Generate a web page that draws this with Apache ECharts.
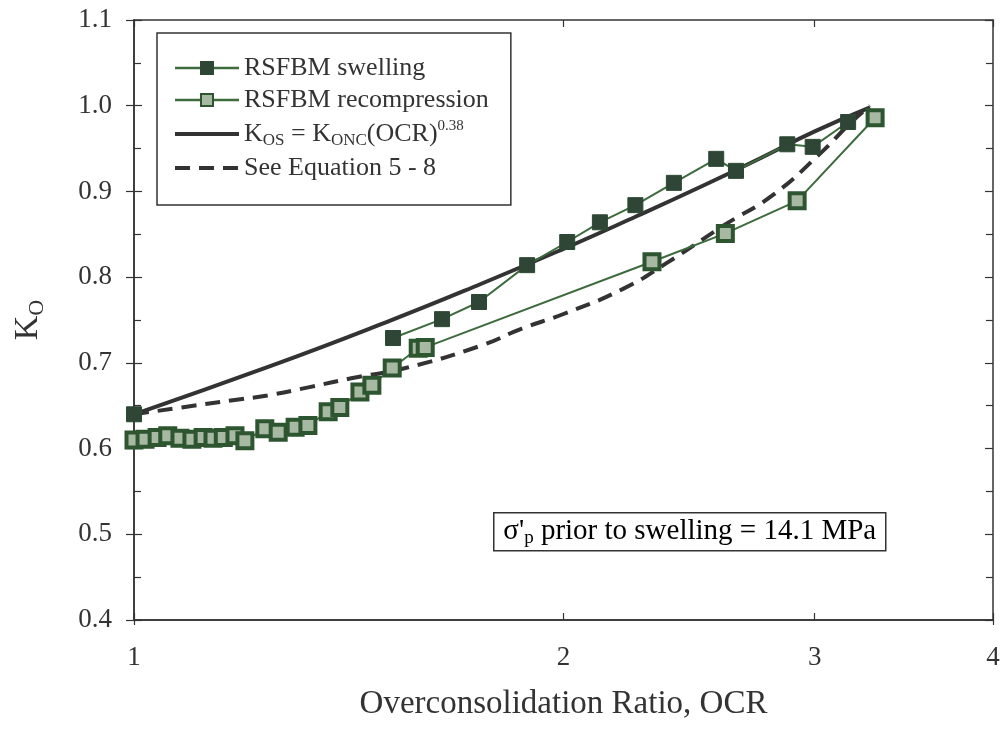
<!DOCTYPE html>
<html>
<head>
<meta charset="utf-8">
<script src="https://cdn.jsdelivr.net/npm/echarts@6/dist/echarts.min.js"></script>
<style>
  html, body { margin: 0; padding: 0; background: #fff; }
  #chart { width: 1008px; height: 736px; }
</style>
</head>
<body>
<div id="chart"></div>
<script>
// OCR values and K0 for the swelling stage (from highest OCR down)
const swellingOCR = [3.166, 2.99, 2.87, 2.642, 2.559, 2.39, 2.246, 2.121, 2.012, 1.886, 1.745, 1.644, 1.519];
const swellingK0  = [0.981, 0.952, 0.955, 0.924, 0.938, 0.910, 0.884, 0.864, 0.841, 0.814, 0.771, 0.751, 0.729];
// Normally consolidated starting point
const startOCR = [1.0];
const startK0  = [0.640];

// Recompression stage
const recompOCR = [1.0, 1.018, 1.038, 1.056, 1.077, 1.098, 1.118, 1.136, 1.155, 1.177, 1.196,
                   1.235, 1.262, 1.297, 1.324, 1.368, 1.394, 1.44, 1.468, 1.517, 1.582, 1.60,
                   2.307, 2.597, 2.916, 3.307];
const recompK0  = [0.610, 0.611, 0.613, 0.615, 0.612, 0.611, 0.613, 0.612, 0.613, 0.615, 0.609,
                   0.623, 0.619, 0.625, 0.627, 0.643, 0.648, 0.666, 0.674, 0.694, 0.717, 0.718,
                   0.818, 0.851, 0.889, 0.986];

// K_OS = K_ONC (OCR)^0.38 curve
const powerOCR = [1.0, 1.25, 1.5, 1.75, 2.0, 2.25, 2.5, 2.75, 3.0, 3.28];
const powerK0  = [0.640, 0.697, 0.747, 0.792, 0.833, 0.871, 0.906, 0.939, 0.970, 0.998];

// Equation 5-8 curve
const eqOCR = [1.0, 1.08, 1.18, 1.24, 1.33, 1.42, 1.55, 1.75, 1.87, 2.0, 2.2, 2.36, 2.6, 2.8, 3.03, 3.17, 3.28];
const eqK0  = [0.640, 0.648, 0.657, 0.662, 0.672, 0.682, 0.694, 0.720, 0.740, 0.757, 0.786, 0.816, 0.862, 0.895, 0.945, 0.978, 1.0];

const xTicks = [1, 2, 3, 4];

const pair = (xs, ys) => xs.map((x, i) => [x, ys[i]]);

const FONT = 'Liberation Serif';
const INK = '#333333';
const GREEN = '#3d6b3d';
const DARK_SQ = '#2f4536';

const legendRich = {
  a:   { fontFamily: FONT, fontSize: 26, color: INK, lineHeight: 30, verticalAlign: 'middle' },
  sub: { fontFamily: FONT, fontSize: 17, color: INK, lineHeight: 17, verticalAlign: 'bottom' },
  sup: { fontFamily: FONT, fontSize: 15, color: INK, lineHeight: 15, verticalAlign: 'top' }
};
const noteRich = {
  a:   { fontFamily: FONT, fontSize: 29, color: INK, lineHeight: 32, verticalAlign: 'middle' },
  sub: { fontFamily: FONT, fontSize: 19, color: INK, lineHeight: 19, verticalAlign: 'bottom' }
};

const legendText = {
  'RSFBM swelling': '{a|RSFBM swelling}',
  'RSFBM recompression': '{a|RSFBM recompression}',
  'Kos': '{a|K}{sub|OS}{a| = K}{sub|ONC}{a|(OCR)}{sup|0.38}',
  'Eq': '{a|See Equation 5 - 8}'
};

const chart = echarts.init(document.getElementById('chart'), null, { renderer: 'canvas' });

const xCommon = {
  type: 'log', logBase: 10, min: 1, max: 4,
  splitLine: { show: false },
  axisLine: { show: true, onZero: false, lineStyle: { color: INK, width: 1.5 } }
};
const yCommon = {
  type: 'value', min: 0.4, max: 1.1, interval: 0.1,
  splitLine: { show: false },
  axisLine: { show: true, onZero: false, lineStyle: { color: INK, width: 1.5 } }
};

chart.setOption({
  animation: false,
  backgroundColor: '#ffffff',
  grid: { left: 134, right: 15, top: 20, bottom: 116, outerBoundsMode: 'none', containLabel: false },
  xAxis: [
    Object.assign({}, xCommon, {
      position: 'bottom',
      name: 'Overconsolidation Ratio, OCR',
      nameLocation: 'middle', nameGap: 68,
      nameTextStyle: { fontFamily: FONT, fontSize: 33, color: INK },
      axisTick: { show: true, inside: true, length: 7, customValues: xTicks, lineStyle: { color: INK, width: 1.2 } },
      axisLabel: { show: true, margin: 24, customValues: xTicks, fontFamily: FONT, fontSize: 27, color: INK,
                   formatter: v => String(Math.round(v)) }
    }),
    Object.assign({}, xCommon, {
      position: 'bottom',
      axisTick: { show: true, inside: false, length: 5, customValues: [1, 4], lineStyle: { color: INK, width: 1.2 } },
      axisLabel: { show: false }
    }),
    Object.assign({}, xCommon, {
      position: 'top',
      axisTick: { show: true, inside: true, length: 7, customValues: xTicks, lineStyle: { color: INK, width: 1.2 } },
      axisLabel: { show: false }
    })
  ],
  yAxis: [
    Object.assign({}, yCommon, {
      position: 'left',
      name: '{a|K}{sub|O}',
      nameLocation: 'middle', nameGap: 86, nameRotate: 90,
      nameTextStyle: {
        rich: {
          a:   { fontFamily: FONT, fontSize: 34, color: INK, lineHeight: 40, verticalAlign: 'middle' },
          sub: { fontFamily: FONT, fontSize: 22, color: INK, lineHeight: 22, verticalAlign: 'bottom' }
        }
      },
      axisTick: { show: true, inside: false, length: 8, lineStyle: { color: INK, width: 1.2 } },
      axisLabel: { show: true, margin: 22, fontFamily: FONT, fontSize: 27, color: INK,
                   formatter: v => v.toFixed(1) }
    }),
    Object.assign({}, yCommon, {
      position: 'left',
      axisTick: { show: true, inside: true, length: 8, lineStyle: { color: INK, width: 1.2 } },
      minorTick: { show: true, splitNumber: 2, length: 7, lineStyle: { color: INK, width: 1.2 } },
      axisLabel: { show: false }
    }),
    Object.assign({}, yCommon, {
      position: 'right',
      axisTick: { show: true, inside: true, length: 8, lineStyle: { color: INK, width: 1.2 } },
      minorTick: { show: true, splitNumber: 2, length: 7, lineStyle: { color: INK, width: 1.2 } },
      axisLabel: { show: false }
    })
  ],
  legend: {
    orient: 'vertical',
    left: 157, top: 33,
    padding: [22, 22, 24, 16],
    itemGap: 6,
    itemWidth: 64,
    itemHeight: 15,
    itemTextGap: 14,
    borderColor: INK,
    borderWidth: 1.5,
    borderRadius: 0,
    data: [
      { name: 'RSFBM swelling', lineStyle: { width: 2.5 } },
      { name: 'RSFBM recompression', lineStyle: { width: 2.5 } },
      { name: 'Kos', itemStyle: { opacity: 0 }, lineStyle: { width: 4 } },
      { name: 'Eq', itemStyle: { opacity: 0 }, lineStyle: { width: 4 } }
    ],
    formatter: name => legendText[name],
    textStyle: { rich: legendRich }
  },
  series: [
    {
      name: 'Kos', type: 'line', xAxisIndex: 0, yAxisIndex: 0,
      data: pair(powerOCR, powerK0), smooth: true, symbol: 'none',
      lineStyle: { color: INK, width: 4 }, itemStyle: { color: INK }, z: 2
    },
    {
      name: 'Eq', type: 'line', xAxisIndex: 0, yAxisIndex: 0,
      data: pair(eqOCR, eqK0), smooth: true, symbol: 'none',
      lineStyle: { color: INK, width: 4, type: [15, 9] }, itemStyle: { color: INK }, z: 2
    },
    {
      name: 'RSFBM recompression', type: 'line', xAxisIndex: 0, yAxisIndex: 0,
      data: pair(recompOCR, recompK0),
      symbol: 'rect', symbolSize: 15,
      lineStyle: { color: GREEN, width: 2 },
      itemStyle: { color: '#a7b8a3', borderColor: '#2d5530', borderWidth: 4 }, z: 3
    },
    {
      name: 'RSFBM swelling', type: 'line', xAxisIndex: 0, yAxisIndex: 0,
      data: pair(swellingOCR, swellingK0),
      symbol: 'rect', symbolSize: 15,
      lineStyle: { color: GREEN, width: 2 },
      itemStyle: { color: DARK_SQ, borderColor: '#2c4a33', borderWidth: 1 }, z: 4
    },
    {
      name: 'start', type: 'scatter', xAxisIndex: 0, yAxisIndex: 0,
      data: pair(startOCR, startK0),
      symbol: 'rect', symbolSize: 15,
      itemStyle: { color: DARK_SQ, borderColor: '#2c4a33', borderWidth: 1, opacity: 1 }, z: 4
    }
  ],
  graphic: [
    {
      type: 'group', left: 493, top: 512,
      children: [
        { type: 'rect', shape: { x: 0, y: 0, width: 392, height: 38 },
          style: { fill: '#ffffff', stroke: INK, lineWidth: 1.5 } },
        { type: 'text', x: 196, y: 19,
          style: {
            text: '{a|σ\'}{sub|p}{a| prior to swelling = 14.1 MPa}',
            align: 'center', verticalAlign: 'middle',
            rich: noteRich
          } }
      ]
    }
  ]
});
</script>
</body>
</html>
